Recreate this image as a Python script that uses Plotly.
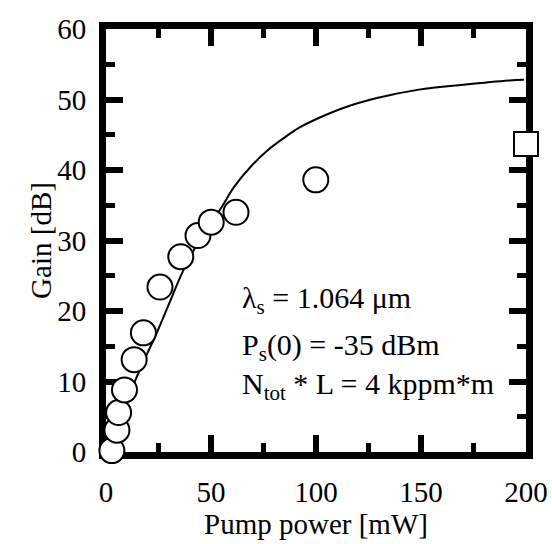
import plotly.graph_objects as go

# Measured data (circles)
meas_x = [2.8, 5.2, 6.0, 8.8, 13.4, 17.8, 25.7, 35.6, 43.8, 50.1, 61.9, 99.9]
meas_y = [0.2, 3.1, 5.6, 8.8, 13.1, 16.9, 23.4, 27.7, 30.7, 32.6, 34.0, 38.6]

# Square marker
sq_x = [200]
sq_y = [43.7]

# Simulated curve
sim_x = [0, 5, 10, 14.7, 20, 23.3, 30, 36.7, 45, 54.8, 61, 69, 77, 85,
         92, 100, 113, 129, 149, 170, 192, 199]
sim_y = [0, 3.5, 7.2, 10.7, 14.2, 16.3, 21.0, 25.7, 30.3, 34.6, 37.6, 40.5,
         42.8, 44.6, 46.0, 47.2, 48.8, 50.2, 51.4, 52.1, 52.7, 52.8]

x_ticks = [0, 50, 100, 150, 200]
y_ticks = [0, 10, 20, 30, 40, 50, 60]

FONT = "Liberation Serif"

fig = go.Figure()
fig.add_trace(go.Scatter(x=sim_x, y=sim_y, mode="lines",
                         line=dict(color="black", width=2), line_shape="spline",
                         showlegend=False, cliponaxis=False))
fig.add_trace(go.Scatter(x=meas_x, y=meas_y, mode="markers",
                         marker=dict(symbol="circle", size=25, color="white",
                                     line=dict(color="black", width=2)),
                         showlegend=False, cliponaxis=False))
fig.add_trace(go.Scatter(x=sq_x, y=sq_y, mode="markers",
                         marker=dict(symbol="square", size=24, color="white",
                                     line=dict(color="black", width=2)),
                         showlegend=False, cliponaxis=False))

axis_common = dict(showline=True, linecolor="black", linewidth=7, mirror="ticks",
                   ticks="inside", tickcolor="black", tickwidth=6, ticklen=17,
                   showgrid=False, zeroline=False, layer="below traces",
                   automargin=False,
                   tickfont=dict(family=FONT, size=29, color="black"))

fig.update_layout(
    width=552, height=544,
    margin=dict(l=105.75, r=26.25, t=29.25, b=92.25),
    plot_bgcolor="white", paper_bgcolor="white",
    font=dict(family=FONT, color="black"),
    xaxis=dict(range=[x_ticks[0], x_ticks[-1]], tickmode="linear",
               tick0=x_ticks[0], dtick=x_ticks[1] - x_ticks[0],
               minor=dict(ticks="inside", dtick=25, tick0=0, ticklen=9, tickwidth=5,
                          tickcolor="black"),
               title=dict(text="Pump power [mW]", font=dict(family=FONT, size=29), standoff=0),
               ticklabelstandoff=8,
               **axis_common),
    yaxis=dict(range=[y_ticks[0], y_ticks[-1]], tickmode="linear",
               tick0=y_ticks[0], dtick=y_ticks[1] - y_ticks[0],
               minor=dict(ticks="inside", dtick=5, tick0=0, ticklen=9, tickwidth=5,
                          tickcolor="black"),
               title=dict(text="Gain [dB]", font=dict(family=FONT, size=29), standoff=0),
               ticklabelstandoff=7,
               **axis_common),
)

ann_font = dict(family=FONT, size=30, color="black")
fig.add_annotation(x=63.9, y=21.55, xref="x", yref="y", xanchor="left", yanchor="middle",
                   text="λ<sub>s</sub> = 1.064 μm", showarrow=False, font=ann_font)
fig.add_annotation(x=63.9, y=14.9, xref="x", yref="y", xanchor="left", yanchor="middle",
                   text="P<sub>s</sub>(0) = -35 dBm", showarrow=False, font=ann_font)
fig.add_annotation(x=63.9, y=9.35, xref="x", yref="y", xanchor="left", yanchor="middle",
                   text="N<sub>tot</sub> * L = 4 kppm*m", showarrow=False, font=ann_font)

fig.write_html("out.html", config={"displayModeBar": False},
               post_script="document.body.style.margin='0';document.body.style.overflow='hidden';")
